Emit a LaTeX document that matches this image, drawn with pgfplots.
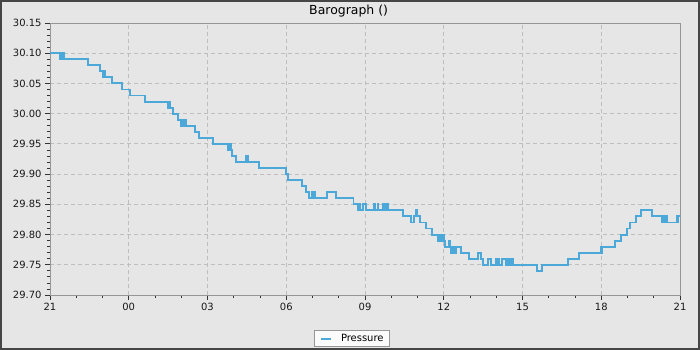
\documentclass[border=0pt]{standalone}
\usepackage{pgfplots}
\pgfplotsset{compat=1.18}
\usepackage{fontspec}
\setmainfont{DejaVu Sans}
\definecolor{bgcol}{RGB}{230,230,230}
\definecolor{framecol}{RGB}{70,70,70}
\definecolor{linecol}{RGB}{75,168,216}
\definecolor{gridcol}{RGB}{190,190,190}
\definecolor{axcol}{RGB}{150,150,150}
\begin{document}
\begin{tikzpicture}
\useasboundingbox (0,0) rectangle (700bp,350bp);
\fill[bgcol] (0,0) rectangle (700bp,350bp);
\draw[framecol, line width=2bp] (1bp,1bp) rectangle (699bp,349bp);
\begin{axis}[
  at={(50bp,55bp)}, anchor=south west,
  scale only axis, width=630bp, height=272bp,
  xmin=0, xmax=24, ymin=29.70, ymax=30.15,
  xtick={0,3,6,9,12,15,18,21,24},
  xticklabels={21,00,03,06,09,12,15,18,21},
  minor x tick num=2,
  ytick={29.70,29.75,29.80,29.85,29.90,29.95,30.00,30.05,30.10,30.15},
  yticklabels={29.70,29.75,29.80,29.85,29.90,29.95,30.00,30.05,30.10,30.15},
  minor y tick num=4,
  tick pos=left, tick align=outside,
  major tick length=5bp, minor tick length=3bp,
  tick style={color=black!80, line width=0.8bp},
  axis line style={draw=axcol, line width=1bp},
  grid=major,
  major grid style={dash pattern=on 4bp off 3bp, color=gridcol, line width=0.8bp},
  axis background/.style={fill=bgcol},
  ticklabel style={font=\fontsize{10}{12}\selectfont, color=black!90},
  /pgf/number format/assume math mode=true,
  title={Barograph ()},
  every axis title shift=0pt,
  title style={at={(0.474,1.044)}, anchor=center, yshift=0pt, font=\fontsize{12.5}{14}\selectfont, inner sep=0pt},
  legend style={at={(0.479,-0.16)}, anchor=center, fill=white!97!gray, draw=axcol,
    font=\fontsize{10}{12}\selectfont, inner xsep=5.5bp, inner ysep=3.5bp,
    nodes={inner sep=0bp, text depth=0.2em}, /tikz/column sep=9bp},
  legend image code/.code={\draw[#1, line width=2bp] (0bp,0bp) -- (10bp,0bp);},
]
\addplot[const plot, color=linecol, line width=1.9bp] coordinates {
(0,30.10) (0.36,30.09) (0.40,30.10) (0.42,30.09) (0.45,30.10) (0.55,30.09)
(1.46,30.08) (1.90,30.07) (2.03,30.06) (2.06,30.07) (2.10,30.06) (2.37,30.05)
(2.73,30.04) (3.05,30.03) (3.62,30.02) (4.49,30.01) (4.53,30.02) (4.56,30.01)
(4.67,30.00) (4.89,29.99) (4.99,29.98) (5.03,29.99) (5.06,29.98) (5.15,29.99)
(5.19,29.98) (5.52,29.97) (5.68,29.96) (6.22,29.95) (6.76,29.94) (6.80,29.95)
(6.84,29.94) (6.88,29.95) (6.90,29.94) (6.94,29.93) (7.07,29.92) (7.47,29.93)
(7.53,29.92) (7.96,29.91) (8.99,29.90) (9.08,29.89) (9.59,29.88) (9.74,29.87)
(9.88,29.86) (9.97,29.87) (10.02,29.86) (10.05,29.87) (10.08,29.86)
(10.54,29.87) (10.88,29.86) (11.56,29.85) (11.75,29.84) (11.80,29.85)
(11.83,29.84) (11.91,29.85) (12.04,29.84) (12.33,29.85) (12.38,29.84)
(12.48,29.85) (12.51,29.84) (12.70,29.85) (12.74,29.84) (12.77,29.85)
(12.81,29.84) (12.85,29.85) (12.89,29.84) (13.46,29.83) (13.74,29.82)
(13.87,29.83) (13.94,29.84) (14.00,29.83) (14.10,29.82) (14.32,29.81)
(14.54,29.80) (14.79,29.79) (14.85,29.80) (14.88,29.79) (14.96,29.80)
(15.01,29.79) (15.06,29.78) (15.18,29.79) (15.24,29.78) (15.28,29.77)
(15.32,29.78) (15.35,29.77) (15.40,29.78) (15.43,29.77) (15.47,29.78)
(15.66,29.77) (15.97,29.76) (16.32,29.77) (16.41,29.76) (16.48,29.75)
(16.70,29.76) (16.80,29.75) (16.99,29.76) (17.03,29.75) (17.08,29.76)
(17.12,29.75) (17.21,29.76) (17.37,29.75) (17.42,29.76) (17.47,29.75)
(17.52,29.76) (17.58,29.75) (17.62,29.76) (17.65,29.75) (18.56,29.74)
(18.74,29.75) (19.74,29.76) (20.15,29.77) (20.98,29.78) (21.01,29.77)
(21.04,29.78) (21.52,29.79) (21.75,29.80) (21.99,29.81) (22.10,29.82)
(22.32,29.83) (22.50,29.84) (22.92,29.83) (23.33,29.82) (23.37,29.83)
(23.42,29.82) (23.46,29.83) (23.50,29.82) (23.87,29.83) (23.90,29.82)
(23.93,29.83) (24.00,29.83)
};
\addlegendentry{Pressure\hspace{5bp}}
\end{axis}
\end{tikzpicture}
\end{document}
